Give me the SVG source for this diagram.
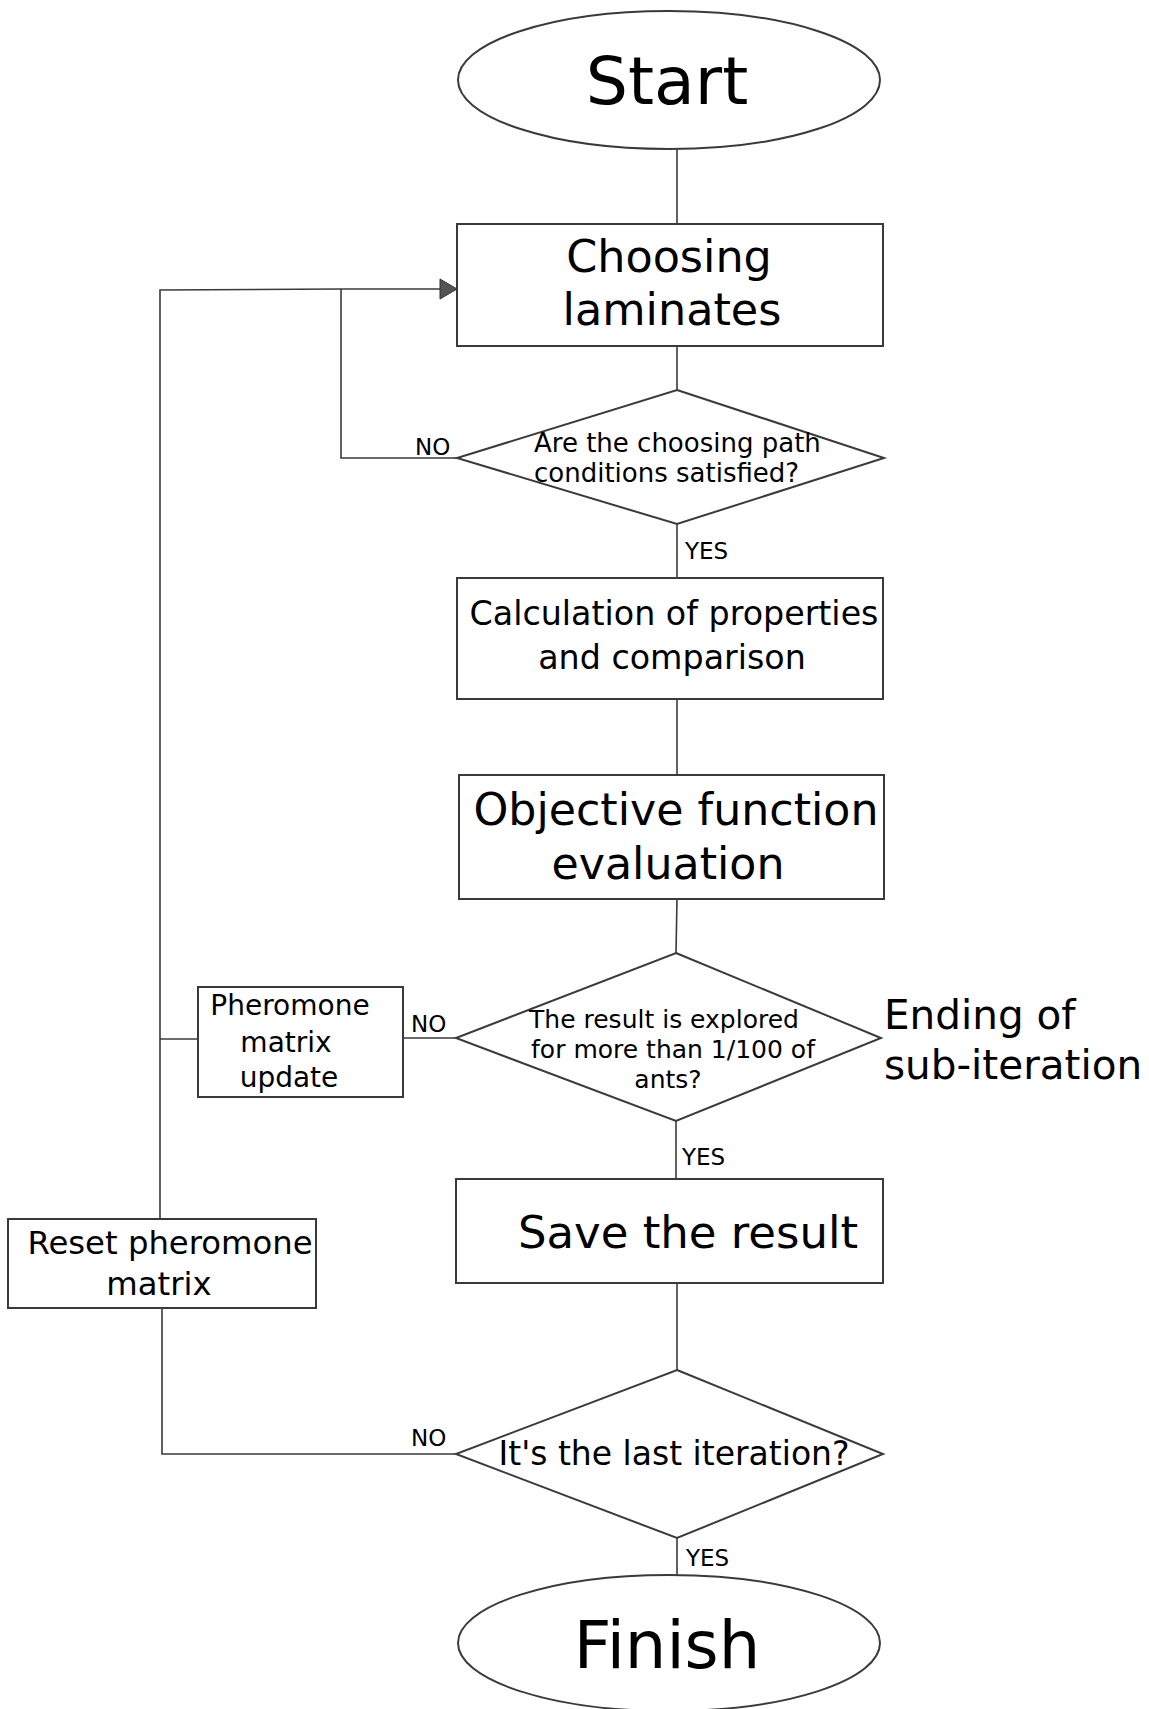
<svg xmlns="http://www.w3.org/2000/svg" width="1149" height="1709" viewBox="0 0 1149 1709">
<defs>
<style>
.shape{fill:#fff;stroke:#3a3a3a;stroke-width:2}
.conn{fill:none;stroke:#3a3a3a;stroke-width:1.6}
text{font-family:"DejaVu Sans",Verdana,sans-serif;fill:#000}
.c{text-anchor:middle}
.lbl{font-size:23px}
</style>
<marker id="arr" markerWidth="20" markerHeight="24" refX="18" refY="12" orient="auto" markerUnits="userSpaceOnUse">
<path d="M1,2 L18,12 L1,22 Z" fill="#555" stroke="#333" stroke-width="1"/>
</marker>
</defs>
<rect width="1149" height="1709" fill="#fff"/>
<g id="connectors">
<line class="conn" x1="677" y1="149" x2="677" y2="224"/>
<line class="conn" x1="677" y1="346" x2="677" y2="390"/>
<line class="conn" x1="677" y1="524" x2="677" y2="578"/>
<line class="conn" x1="677" y1="699" x2="677" y2="775"/>
<line class="conn" x1="677" y1="899" x2="676" y2="953"/>
<line class="conn" x1="676" y1="1121" x2="676" y2="1179"/>
<line class="conn" x1="677" y1="1283" x2="677" y2="1370"/>
<line class="conn" x1="677" y1="1538" x2="677" y2="1575"/>
<polyline class="conn" points="457,458 341,458 341,289"/>
<polyline class="conn" points="160,1219 160,290 341,289 457,289" marker-end="url(#arr)"/>
<line class="conn" x1="456" y1="1038" x2="403" y2="1038"/>
<line class="conn" x1="198" y1="1039" x2="160" y2="1039"/>
<polyline class="conn" points="456,1454 162,1454 162,1308"/>
</g>
<g id="start">
<ellipse class="shape" cx="669" cy="80" rx="211" ry="69" stroke-width="1.4"/>
<text class="c" x="667" y="104" font-size="66.5">Start</text>
</g>
<g id="choosing">
<rect class="shape" x="457" y="224" width="426" height="122"/>
<text class="c" x="669" y="272" font-size="44.5">Choosing</text>
<text class="c" x="672" y="325" font-size="44.5">laminates</text>
</g>
<g id="decision1">
<polygon class="shape" points="677,390 884,458 677,524 457,458" stroke-width="1.6"/>
<text x="534" y="452" font-size="26">Are the choosing path</text>
<text x="534" y="482" font-size="26">conditions satisfied?</text>
<text class="lbl" x="415" y="455">NO</text>
<text class="lbl" x="685" y="559">YES</text>
</g>
<g id="calculation">
<rect class="shape" x="457" y="578" width="426" height="121"/>
<text class="c" x="674" y="625" font-size="33.3">Calculation of properties</text>
<text class="c" x="672" y="669" font-size="33.3">and comparison</text>
</g>
<g id="objective">
<rect class="shape" x="459" y="775" width="425" height="124"/>
<text class="c" x="676" y="825" font-size="44.3">Objective function</text>
<text class="c" x="668" y="879" font-size="44.3">evaluation</text>
</g>
<g id="decision2">
<polygon class="shape" points="676,953 881,1038 676,1121 456,1038" stroke-width="1.6"/>
<text class="c" x="664" y="1028" font-size="25">The result is explored</text>
<text class="c" x="673" y="1058" font-size="25">for more than 1/100 of</text>
<text class="c" x="668" y="1088" font-size="25">ants?</text>
<text class="lbl" x="411" y="1032">NO</text>
<text class="lbl" x="682" y="1165">YES</text>
</g>
<g id="ending-label">
<text x="884" y="1029" font-size="40.5">Ending of</text>
<text x="884" y="1079" font-size="40.5">sub-iteration</text>
</g>
<g id="pheromone-update">
<rect class="shape" x="198" y="987" width="205" height="110"/>
<text class="c" x="290" y="1015" font-size="28">Pheromone</text>
<text class="c" x="286" y="1052" font-size="28">matrix</text>
<text class="c" x="289" y="1087" font-size="28">update</text>
</g>
<g id="save">
<rect class="shape" x="456" y="1179" width="427" height="104"/>
<text class="c" x="688" y="1248" font-size="45">Save the result</text>
</g>
<g id="decision3">
<polygon class="shape" points="677,1370 883,1454 677,1538 456,1454" stroke-width="1.6"/>
<text class="c" x="674" y="1465" font-size="33">It's the last iteration?</text>
<text class="lbl" x="411" y="1446">NO</text>
<text class="lbl" x="686" y="1566">YES</text>
</g>
<g id="reset">
<rect class="shape" x="8" y="1219" width="308" height="89"/>
<text class="c" x="170" y="1254" font-size="32.3">Reset pheromone</text>
<text class="c" x="159" y="1295" font-size="32.3">matrix</text>
</g>
<g id="finish">
<ellipse class="shape" cx="669" cy="1643" rx="211" ry="68" stroke-width="1.4"/>
<text class="c" x="667" y="1668" font-size="65.5">Finish</text>
</g>
</svg>
